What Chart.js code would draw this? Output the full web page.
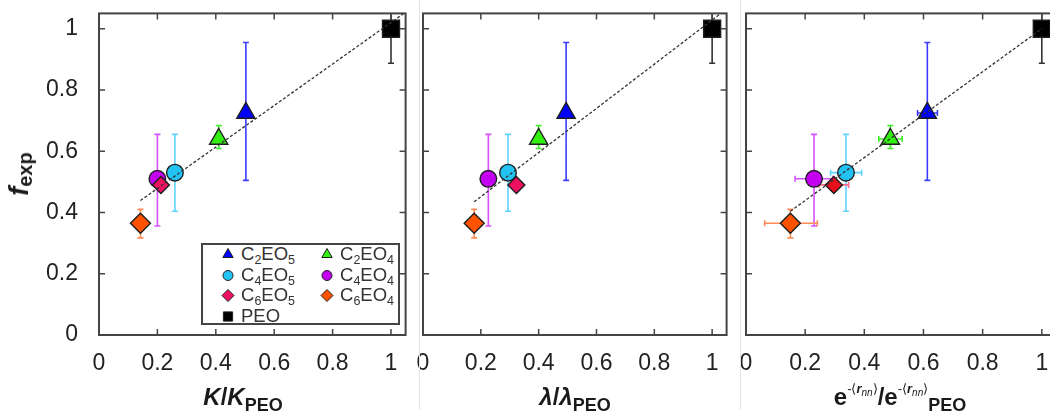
<!DOCTYPE html>
<html>
<head>
<meta charset="utf-8">
<script src="https://cdn.jsdelivr.net/npm/chart.js@4.4.1/dist/chart.umd.min.js"></script>
<style>
  body { margin: 0; width: 1050px; height: 413px; overflow: hidden; background: #fff; position: relative;
         font-family: "Liberation Sans", Arial, sans-serif; color: #1a1a1a; }
  canvas.panel { position: absolute; top: 0; }
  .sep { position: absolute; top: 0; width: 1px; height: 410px; background: #e4e4e4; }
  .xt { position: absolute; top: 385px; transform: translateX(-50%); white-space: nowrap;
        font: bold 24px/24px "Liberation Sans", Arial, sans-serif; }
  .xt sub.peo { font-size: 18px; font-style: normal; vertical-align: -6px; line-height: 0; }
  .xt sup { font-size: 13px; font-weight: normal; vertical-align: 12px; line-height: 0; }
  .xt sup i { font-weight: bold; }
  .xt sup sub { font-size: 10px; font-weight: normal; font-style: italic; vertical-align: -3px; }
  .yt { position: absolute; left: 19px; top: 174px; transform: translate(-50%, -50%) rotate(-90deg);
        white-space: nowrap; font: bold 27px/30px "Liberation Sans", Arial, sans-serif; }
  .yt sub { font-size: 20px; font-style: normal; vertical-align: -4px; line-height: 0; }
  #legend { position: absolute; left: 201px; top: 243px; width: 199px; height: 82px; box-sizing: border-box;
            border: 2px solid #444; background: #fff; }
  #legend .item { position: absolute; height: 20px; display: flex; align-items: center; white-space: nowrap;
                  font-size: 18.5px; color: #333; }
  #legend .item canvas { margin-right: 5px; }
  #legend sub { font-size: 12.5px; vertical-align: -4px; line-height: 0; }
</style>
</head>
<body>
<canvas class="panel" id="chartK" width="419" height="413" style="left:0px"></canvas>
<canvas class="panel" id="chartLambda" width="335" height="413" style="left:405px"></canvas>
<canvas class="panel" id="chartRnn" width="345" height="413" style="left:725px"></canvas>
<div class="sep" style="left:419px"></div>
<div class="sep" style="left:740px"></div>
<div class="yt"><i>f</i><sub>exp</sub></div>
<div class="xt" style="left:243px"><i>K</i>/<i>K</i><sub class="peo">PEO</sub></div>
<div class="xt" style="left:575px"><i>λ</i>/<i>λ</i><sub class="peo">PEO</sub></div>
<div class="xt" style="left:900px">e<sup>-⟨<i>r</i><sub>nn</sub>⟩</sup>/e<sup>-⟨<i>r</i><sub>nn</sub>⟩</sup><sub class="peo">PEO</sub></div>
<div id="legend"></div>
<script>
const fontFamily = '"Liberation Sans", Arial, sans-serif';

// series in legend order
const seriesNames = ["C2EO5", "C2EO4", "C4EO5", "C4EO4", "C6EO5", "C6EO4", "PEO"];

// measured f_exp with its error range
const fExp  = [0.725, 0.64, 0.53, 0.51, 0.49, 0.365, 1.0];
const fLow  = [0.505, 0.609, 0.404, 0.356, null, 0.317, 0.887];
const fHigh = [0.955, 0.684, 0.655, 0.655, null, 0.41, 1.113];

// normalised descriptors
const kRatio      = [0.503, 0.41, 0.26, 0.20, 0.212, 0.142, 1.0];
const lambdaRatio = [0.495, 0.40, 0.294, 0.226, 0.323, 0.177, 1.0];
const rnnRatio    = [0.613, 0.488, 0.338, 0.23, 0.297, 0.15, 1.0];
const rnnLow      = [0.58, 0.449, 0.286, 0.166, 0.247, 0.063, null];
const rnnHigh     = [0.647, 0.528, 0.391, 0.294, 0.347, 0.241, null];

// linear fits, endpoints
const fitKx = [0.142, 1.044], fitKy = [0.439, 1.05];
const fitLx = [0.177, 1.03],  fitLy = [0.435, 1.05];
const fitRx = [0.15, 1.0],    fitRy = [0.404, 1.0];

const xTicks = [0, 0.2, 0.4, 0.6, 0.8, 1];
const yTicks = [0, 0.2, 0.4, 0.6, 0.8, 1];

const seriesStyle = {
  C2EO5: { shape: "triangle", r: 10.5, fill: "#0000ff", bar: "#3c3cff" },
  C2EO4: { shape: "triangle", r: 10.5, fill: "#33ee11", bar: "#3fee2a" },
  C4EO5: { shape: "circle",   r: 8.3,  fill: "#22c2f2", bar: "#5fd3ff" },
  C4EO4: { shape: "circle",   r: 8.3,  fill: "#c400f0", bar: "#d650ff" },
  C6EO5: { shape: "rectRot",  r: 8.5,  fill: "#ee1162", bar: "#ff6a8c" },
  C6EO4: { shape: "rectRot",  r: 10,   fill: "#ff5200", bar: "#ff8a55" },
  PEO:   { shape: "rect",     r: 12,   fill: "#000000", bar: "#333333" },
};

function pointSets(xs, xLow, xHigh, fills) {
  return seriesNames.map((name, i) => {
    const st = seriesStyle[name];
    return {
      label: name,
      data: [{ x: xs[i], y: fExp[i] }],
      pointStyle: st.shape,
      pointRadius: st.r,
      pointHoverRadius: st.r,
      backgroundColor: (fills && fills[name]) || st.fill,
      borderColor: "#1e1e1e",
      borderWidth: 1.4,
      barColor: st.bar,
      yLow: fLow[i], yHigh: fHigh[i],
      xLow: xLow ? xLow[i] : null, xHigh: xHigh ? xHigh[i] : null,
      order: 10 - i,
    };
  });
}

function fitSet(xs, ys) {
  return {
    label: "fit",
    data: xs.map((x, i) => ({ x, y: ys[i] })),
    showLine: true,
    borderColor: "#333",
    borderWidth: 1.3,
    borderDash: [3, 2],
    pointRadius: 0,
    order: 0,
    clip: 0,
  };
}

// error bars sit under the markers
const errorBars = {
  id: "errorBars",
  beforeDatasetsDraw(chart) {
    const { ctx, chartArea: a, scales: { x, y } } = chart;
    const cap = 3;
    ctx.save();
    ctx.beginPath();
    ctx.rect(a.left, a.top, a.width, a.height);
    ctx.clip();
    ctx.lineWidth = 1.6;
    chart.data.datasets.forEach(ds => {
      if (!ds.barColor) return;
      const px = x.getPixelForValue(ds.data[0].x);
      const py = y.getPixelForValue(ds.data[0].y);
      ctx.strokeStyle = ds.barColor;
      ctx.beginPath();
      if (ds.yLow != null) {
        const y0 = y.getPixelForValue(ds.yLow), y1 = y.getPixelForValue(ds.yHigh);
        ctx.moveTo(px, y0); ctx.lineTo(px, y1);
        ctx.moveTo(px - cap, y0); ctx.lineTo(px + cap, y0);
        ctx.moveTo(px - cap, y1); ctx.lineTo(px + cap, y1);
      }
      if (ds.xLow != null) {
        const x0 = x.getPixelForValue(ds.xLow), x1 = x.getPixelForValue(ds.xHigh);
        ctx.moveTo(x0, py); ctx.lineTo(x1, py);
        ctx.moveTo(x0, py - cap); ctx.lineTo(x0, py + cap);
        ctx.moveTo(x1, py - cap); ctx.lineTo(x1, py + cap);
      }
      ctx.stroke();
    });
    ctx.restore();
  },
};

// box frame with inward ticks on all four sides
const frameTicks = {
  id: "frameTicks",
  afterDraw(chart) {
    const { ctx, chartArea: a, scales: { x, y } } = chart;
    const len = 6;
    ctx.save();
    ctx.strokeStyle = "#444";
    ctx.lineWidth = 1.5;
    ctx.beginPath();
    xTicks.forEach(v => {
      const px = x.getPixelForValue(v);
      ctx.moveTo(px, a.bottom); ctx.lineTo(px, a.bottom - len);
      ctx.moveTo(px, a.top); ctx.lineTo(px, a.top + len);
    });
    yTicks.forEach(v => {
      const py = y.getPixelForValue(v);
      ctx.moveTo(a.left, py); ctx.lineTo(a.left + len, py);
      ctx.moveTo(a.right, py); ctx.lineTo(a.right - len, py);
    });
    ctx.stroke();
    ctx.lineWidth = 2;
    ctx.strokeRect(a.left, a.top, a.width, a.height);
    ctx.restore();
  },
};

function makeChart(id, datasets, padding, showY) {
  return new Chart(document.getElementById(id), {
    type: "scatter",
    data: { datasets },
    options: {
      responsive: false,
      animation: false,
      events: [],
      layout: { padding },
      plugins: { legend: { display: false }, tooltip: { enabled: false } },
      scales: {
        x: {
          type: "linear", min: 0, max: 1.05,
          afterBuildTicks: s => { s.ticks = xTicks.map(value => ({ value })); },
          afterFit: s => { s.height = 78; s.paddingLeft = 0; s.paddingRight = 0; },
          grid: { display: false, drawTicks: false },
          border: { display: false },
          ticks: { padding: 15, color: "#222", font: { size: 23, family: fontFamily }, callback: v => String(v) },
        },
        y: {
          type: "linear", min: 0, max: 1.05, display: showY,
          afterBuildTicks: s => { s.ticks = yTicks.map(value => ({ value })); },
          afterFit: s => { s.width = showY ? 99 : 0; s.paddingTop = 0; s.paddingBottom = 0; },
          grid: { display: false, drawTicks: false },
          border: { display: false },
          ticks: { padding: 21, color: "#222", font: { size: 23, family: fontFamily }, callback: v => String(v) },
        },
      },
    },
    plugins: [errorBars, frameTicks],
  });
}

const chartK = makeChart("chartK",
  [fitSet(fitKx, fitKy), ...pointSets(kRatio)],
  { top: 13, right: 8, bottom: 0, left: 0 }, true);
makeChart("chartLambda",
  [fitSet(fitLx, fitLy), ...pointSets(lambdaRatio)],
  { top: 13, right: 5, bottom: 0, left: 18 }, false);
makeChart("chartRnn",
  [fitSet(fitRx, fitRy), ...pointSets(rnnRatio, rnnLow, rnnHigh, { C6EO5: "#e8101c" })],
  { top: 13, right: 9, bottom: 0, left: 21 }, false);

// legend box built from the first panel's datasets, two columns
const legendBox = document.getElementById("legend");
const legendSizes = { triangle: 6, circle: 5, rectRot: 6, rect: 6.5 };
chartK.data.datasets.filter(ds => ds.barColor).forEach((ds, i) => {
  const col = i % 2, row = Math.floor(i / 2);
  const item = document.createElement("div");
  item.className = "item";
  item.style.left = (col ? 116 : 17) + "px";
  item.style.top = (row * 20.7 - 1) + "px";
  const mark = document.createElement("canvas");
  mark.width = 16; mark.height = 16;
  const mctx = mark.getContext("2d");
  mctx.fillStyle = ds.backgroundColor;
  mctx.strokeStyle = "#1e1e1e";
  mctx.lineWidth = 1;
  Chart.helpers.drawPoint(mctx, { pointStyle: ds.pointStyle, radius: legendSizes[ds.pointStyle], rotation: 0, borderWidth: 1 }, 8, 8.5);
  const text = document.createElement("span");
  text.innerHTML = ds.label.replace(/(\d)/g, "<sub>$1</sub>");
  item.appendChild(mark);
  item.appendChild(text);
  legendBox.appendChild(item);
});
</script>
</body>
</html>
